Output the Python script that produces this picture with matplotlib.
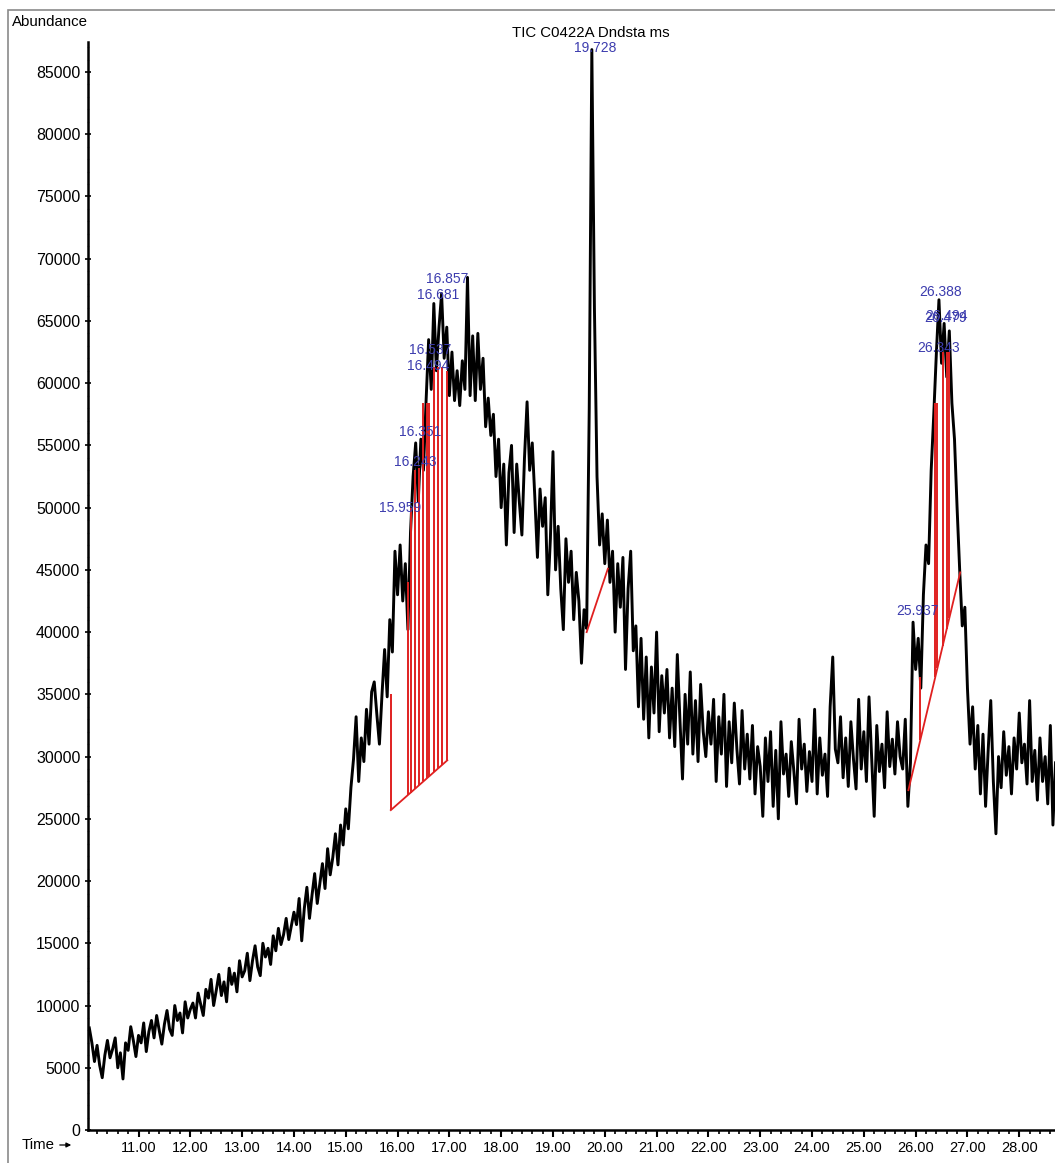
import matplotlib.pyplot as plt
from matplotlib.patches import Rectangle
from matplotlib.ticker import MultipleLocator, FormatStrFormatter
import numpy as np

plt.rcParams["font.family"] = ["Liberation Sans", "DejaVu Sans"]

# TIC trace, one scan every 0.05 min starting at 10.05 min, abundance in thousands
t_start, t_step = 10.05, 0.05
tic_k = [
    # 10.05 - 11.00
    8.2, 7.0, 5.5, 6.8, 5.2, 4.2, 6.0, 7.2, 5.8, 6.5, 7.4, 5.0, 6.2, 4.1, 7.0, 6.4, 8.3, 7.2, 5.9, 7.6,
    # 11.05 - 12.00
    7.0, 8.6, 6.3, 7.9, 8.8, 7.4, 9.2, 8.0, 6.9, 8.5, 9.6, 8.1, 7.6, 10.0, 8.8, 9.4, 7.8, 10.3, 9.0, 9.7,
    # 12.05 - 13.00
    10.2, 9.0, 11.0, 10.1, 9.2, 11.3, 10.6, 12.1, 10.0, 11.2, 12.5, 10.8, 11.9, 10.3, 13.0, 11.7, 12.6, 11.1, 13.6, 12.3,
    # 13.05 - 14.00
    12.8, 14.2, 12.0, 13.6, 14.8, 13.1, 12.4, 15.0, 13.9, 14.6, 13.3, 15.6, 14.4, 16.2, 14.9, 15.7, 17.0, 15.3, 16.4, 17.5,
    # 14.05 - 15.00
    16.5, 18.6, 15.2, 17.8, 19.5, 17.0, 18.9, 20.6, 18.2, 19.8, 21.4, 19.4, 22.6, 20.5, 21.9, 23.8, 21.3, 24.5, 22.9, 25.8,
    # 15.05 - 16.00
    24.2, 27.5, 29.8, 33.2, 28.0, 31.5, 29.6, 33.8, 31.0, 35.2, 36.0, 33.4, 31.0, 35.0, 38.6, 34.8, 41.0, 38.4, 46.5, 43.0,
    # 16.05 - 17.00
    47.0, 42.5, 45.5, 40.2, 48.0, 52.5, 55.2, 50.5, 55.5, 53.0, 58.5, 63.5, 59.5, 66.4, 61.0, 64.5, 67.2, 62.0, 64.5, 59.0,
    # 17.05 - 18.00
    62.5, 58.6, 61.0, 58.2, 61.8, 59.5, 68.5, 59.0, 63.8, 58.6, 64.0, 59.5, 62.0, 56.5, 58.8, 55.8, 57.5, 52.5, 55.5, 50.0,
    # 18.05 - 19.00
    53.5, 47.0, 52.8, 55.0, 48.0, 53.5, 50.5, 47.8, 54.0, 58.5, 53.0, 55.2, 50.8, 46.0, 51.5, 48.5, 50.8, 43.0, 47.5, 54.5,
    # 19.05 - 20.00
    45.0, 48.5, 43.5, 40.2, 47.5, 44.0, 46.5, 41.0, 44.8, 42.5, 37.5, 41.8, 40.3, 58.0, 86.8, 66.0, 52.5, 47.0, 49.5, 45.5,
    # 20.05 - 21.00
    49.0, 44.0, 46.5, 40.0, 45.5, 42.0, 46.0, 37.0, 43.5, 46.5, 38.5, 40.5, 34.0, 39.5, 33.0, 38.0, 31.5, 37.2, 33.5, 40.0,
    # 21.05 - 22.00
    32.0, 36.5, 33.5, 37.0, 31.5, 35.5, 30.8, 38.2, 33.0, 28.2, 35.0, 31.0, 36.8, 30.2, 34.5, 29.6, 35.8, 32.0, 30.0, 33.6,
    # 22.05 - 23.00
    31.0, 34.6, 28.0, 33.2, 30.2, 35.0, 27.6, 32.8, 29.5, 34.3, 30.6, 27.8, 33.7, 29.0, 31.8, 28.2, 32.5, 27.0, 30.8, 29.2,
    # 23.05 - 24.00
    25.2, 31.5, 28.0, 32.0, 26.0, 30.5, 25.0, 32.8, 28.6, 30.2, 26.8, 31.2, 28.8, 26.2, 33.0, 29.0, 31.0, 27.2, 30.4, 28.0,
    # 24.05 - 25.00
    33.8, 27.0, 31.5, 28.5, 30.2, 26.8, 34.0, 38.0, 30.6, 29.5, 33.2, 28.3, 31.5, 27.6, 32.8, 29.8, 27.4, 34.6, 29.0, 32.0,
    # 25.05 - 26.00
    28.0, 34.8, 30.0, 25.2, 32.5, 28.8, 31.0, 27.5, 33.6, 29.2, 31.4, 28.6, 32.8, 30.0, 29.0, 33.0, 26.0, 29.5, 40.8, 37.0,
    # 26.05 - 27.00
    39.5, 35.5, 43.0, 47.0, 45.5, 53.0, 57.5, 62.4, 66.7, 61.6, 64.8, 60.5, 64.2, 58.4, 55.5, 50.0, 45.0, 40.5, 42.0, 35.5,
    # 27.05 - 28.00
    31.0, 34.0, 29.0, 32.5, 27.0, 31.8, 26.0, 30.5, 34.5, 28.0, 23.8, 30.0, 27.5, 32.0, 28.5, 30.8, 27.0, 31.5, 29.0, 33.5,
    # 28.05 - 28.70
    29.5, 31.0, 27.8, 34.5, 28.0, 30.5, 26.5, 31.5, 28.0, 30.0, 26.2, 32.5, 24.5, 29.5,
]

# integration events (min, thousands)
base1_t = [15.87, 16.96]
base1_k = [25.7, 29.7]
drop1_t = [15.87, 16.21, 16.25, 16.34, 16.42, 16.50, 16.57, 16.61, 16.70, 16.79, 16.85, 16.96]
drop1_k = [35.0, 44.0, 50.0, 53.0, 53.2, 58.4, 58.4, 58.4, 61.3, 61.3, 61.3, 61.0]

base2_t = [19.65, 20.06]
base2_k = [40.0, 45.1]

base3_t = [25.86, 26.86]
base3_k = [27.3, 44.8]
drop3_t = [25.86, 26.09, 26.38, 26.42, 26.52, 26.60, 26.65]
drop3_k = [27.3, 36.4, 58.4, 58.4, 62.5, 62.5, 62.5]

# peak apex labels and the height their text sits at (thousands)
peak_labels = ["15.959", "16.243", "16.351", "16.494", "16.537", "16.681", "16.857",
               "19.728", "25.937", "26.343", "26.479", "26.494", "26.388"]
label_k = [50.0, 53.7, 56.1, 61.4, 62.7, 67.1, 68.4,
           86.9, 41.7, 62.8, 65.2, 65.4, 67.3]

time = t_start + t_step * np.arange(len(tic_k))
tic = np.array(tic_k) * 1000

W, H = 1055, 1163
fig = plt.figure(figsize=(W / 100, H / 100), dpi=100)
ax = fig.add_axes([88 / W, (H - 1130) / H, (W - 88) / W, (1130 - 42) / H])

ax.plot(time, tic, color="black", lw=2.1, zorder=2)

red = "#e02020"
for bt, bk in [(base1_t, base1_k), (base2_t, base2_k), (base3_t, base3_k)]:
    ax.plot(bt, np.array(bk) * 1000, color=red, lw=1.3, zorder=3)
for dt, dk, bt, bk in [(drop1_t, drop1_k, base1_t, base1_k), (drop3_t, drop3_k, base3_t, base3_k)]:
    bottoms = np.interp(dt, bt, bk) * 1000
    ax.vlines(dt, bottoms, np.array(dk) * 1000, color=red, lw=1.4, zorder=3)

for txt, yk in zip(peak_labels, label_k):
    ax.annotate(txt, (float(txt), yk * 1000), xytext=(3.5, 0), textcoords="offset points",
                ha="center", va="center", fontsize=10, color="#3c3cae", zorder=4)

ax.set_xlim(10.025, 28.69)
ax.set_ylim(0, 87410)
for s in ["top", "right"]:
    ax.spines[s].set_visible(False)
for s in ["left", "bottom"]:
    ax.spines[s].set_linewidth(1.8)

ax.xaxis.set_major_locator(MultipleLocator(1))
ax.xaxis.set_minor_locator(MultipleLocator(0.2))
ax.xaxis.set_major_formatter(FormatStrFormatter("%.2f"))
ax.yaxis.set_major_locator(MultipleLocator(5000))
ax.yaxis.set_minor_locator(MultipleLocator(1000))
ax.tick_params(axis="x", which="major", length=5, width=1.5, pad=3, labelsize=10.5)
ax.tick_params(axis="x", which="minor", length=3, width=1.2)
ax.tick_params(axis="y", which="major", direction="inout", length=5, width=1.2, pad=3, labelsize=11.4)
ax.tick_params(axis="y", which="minor", direction="inout", length=2, width=0.8, color="#aaaaaa")

fig.text(12 / W, 1 - 22 / H, "Abundance", va="center", ha="left", fontsize=10.8)
fig.text(591 / W, 1 - 33 / H, "TIC C0422A Dndsta ms", va="center", ha="center", fontsize=10.8)
fig.text(22 / W, 1 - 1145 / H, "Time", va="center", ha="left", fontsize=10.8)
ax.annotate("", xy=(74, H - 1145), xytext=(57, H - 1145), xycoords="figure pixels",
            arrowprops=dict(arrowstyle="-|>", lw=0.9, color="black", mutation_scale=7))

fig.patches.append(Rectangle((8 / W, -0.05), 1.2, 1.05 - 10 / H, transform=fig.transFigure,
                             fill=False, edgecolor="#8a8a8a", lw=1.2))

fig.savefig("out.png", dpi=100)
